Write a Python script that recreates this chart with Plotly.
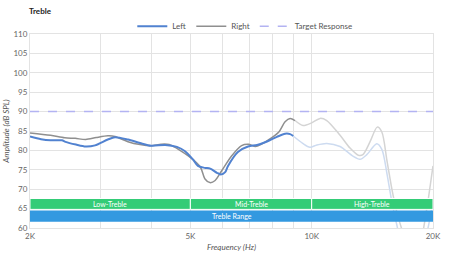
import plotly.graph_objects as go
import math

# ---- data ----
left_freq = [2000, 2130, 2250, 2400, 2450, 2600, 2750, 2900, 3120, 3250, 3500, 3750, 4000,
             4330, 4630, 4850, 5080, 5220, 5430, 5600, 5820, 5950, 6100, 6200, 6560, 6950,
             7320, 7750, 8200, 8590, 8840, 9000,
             9500, 9900, 10300, 10900, 11760, 12660, 13180, 13700, 14500, 14940, 15380,
             15830, 16280, 16760, 17740, 18600, 19440, 20000]
left_db = [83.6, 82.9, 82.6, 82.6, 82.2, 81.5, 81.0, 81.3, 82.8, 83.4, 82.8, 81.9, 81.2,
           81.4, 80.9, 79.8, 77.6, 76.0, 75.5, 75.3, 74.2, 73.8, 74.4, 76.0, 79.6, 81.0,
           81.4, 82.3, 83.5, 84.3, 84.2, 83.7,
           81.8, 80.8, 81.4, 81.8, 81.0, 78.5, 77.7, 78.9, 81.7, 80.2, 73.9,
           66.4, 60.6, 55.0, 50.0, 52.0, 60.0, 67.0]
left_dark_until = 9000

right_freq = [2000, 2250, 2440, 2590, 2750, 2920, 3120, 3250, 3500, 3750, 4000, 4230,
              4430, 4950, 5300, 5430, 5590, 5760, 5980, 6320, 6700, 6970, 7250, 7510,
              7860, 8290, 8590, 8840, 9090,
              9520, 10000, 10490, 10900, 11760, 12450, 13050, 13400, 13960, 14540, 14930,
              15380, 15830, 16280, 16760, 17740, 18400, 18890, 19440, 20000]
right_db = [84.5, 83.9, 83.25, 83.1, 82.8, 83.3, 83.75, 83.6, 82.25, 81.5, 81.2, 81.6,
            81.5, 78.5, 75.6, 72.7, 71.7, 72.25, 74.75, 78.5, 81.25, 81.6, 81.0, 81.6,
            82.9, 84.75, 87.4, 88.25, 87.7,
            86.4, 87.1, 88.25, 87.7, 83.9, 80.6, 78.75, 78.9, 82.25, 86.0, 84.75,
            77.25, 69.75, 63.9, 59.5, 52.0, 52.0, 59.0, 67.0, 76.0]
right_dark_until = 9090

target_db = 90

band_names = ["Low-Treble", "Mid-Treble", "High-Treble"]
band_start = [2000, 5000, 10000]
band_end = [5000, 10000, 20000]
band_low, band_high = 64.8, 67.6
range_name = "Treble Range"
range_low, range_high = 61.6, 64.5

x_tickvals = [2000, 3000, 4000, 5000, 6000, 7000, 8000, 9000, 10000, 20000]
x_ticktext = ["2K", "", "", "5K", "", "", "", "", "10K", "20K"]

# ---- styles ----
BLUE = "#5182d0"
BLUE_FADE = "#cddbf0"
GREY = "#8f8f8f"
GREY_FADE = "#d4d4d4"
TARGET = "#b3b3f2"
GREEN = "#34cc77"
RANGE_BLUE = "#3399e0"
FONT = "Lato"


def split(freq, db, cut):
    dark_f = [f for f in freq if f <= cut]
    dark_d = db[:len(dark_f)]
    fade_f = freq[len(dark_f) - 1:]
    fade_d = db[len(dark_f) - 1:]
    return dark_f, dark_d, fade_f, fade_d


lf, ld, lff, lfd = split(left_freq, left_db, left_dark_until)
rf, rd, rff, rfd = split(right_freq, right_db, right_dark_until)

fig = go.Figure()
fig.add_trace(go.Scatter(x=rff, y=rfd, mode="lines", line=dict(color=GREY_FADE, width=1.5, shape="spline", smoothing=0.8),
                         showlegend=False, hoverinfo="skip"))
fig.add_trace(go.Scatter(x=lff, y=lfd, mode="lines", line=dict(color=BLUE_FADE, width=1.5, shape="spline", smoothing=0.8),
                         showlegend=False, hoverinfo="skip"))
fig.add_trace(go.Scatter(x=[2000, 20000], y=[target_db, target_db], mode="lines",
                         line=dict(color=TARGET, width=1.5, dash="dash"), name="Target Response"))
fig.add_trace(go.Scatter(x=rf, y=rd, mode="lines", line=dict(color=GREY, width=1.5, shape="spline", smoothing=0.8),
                         name="Right"))
fig.add_trace(go.Scatter(x=lf, y=ld, mode="lines", line=dict(color=BLUE, width=2, shape="spline", smoothing=0.8),
                         name="Left"))

shapes = []
annotations = []
for name, s, e in zip(band_names, band_start, band_end):
    shapes.append(dict(type="rect", xref="x", yref="y", x0=s, x1=e, y0=band_low, y1=band_high,
                       fillcolor=GREEN, line=dict(color="white", width=1), layer="above"))
    annotations.append(dict(x=(math.log10(s) + math.log10(e)) / 2, y=(band_low + band_high) / 2,
                            xref="x", yref="y", text=name, showarrow=False,
                            font=dict(color="white", size=7, family=FONT)))
shapes.append(dict(type="rect", xref="x", yref="y", x0=band_start[0], x1=band_end[-1],
                   y0=range_low, y1=range_high, fillcolor=RANGE_BLUE, line=dict(width=0), layer="above"))
annotations.append(dict(x=(math.log10(band_start[0]) + math.log10(band_end[-1])) / 2,
                        y=(range_low + range_high) / 2, xref="x", yref="y", text=range_name,
                        showarrow=False, font=dict(color="white", size=7, family=FONT)))

fig.update_layout(
    width=450, height=260,
    margin=dict(l=30, r=17, t=29, b=32),
    paper_bgcolor="white", plot_bgcolor="white",
    font=dict(family=FONT, size=8, color="#555"),
    title=dict(text="<b>Treble</b>", x=29 / 450, xanchor="left", y=1 - 11 / 260, yanchor="middle",
               font=dict(size=8, color="#222", family=FONT)),
    legend=dict(orientation="h", x=0.533, xanchor="center", y=1.04, yanchor="middle",
                font=dict(size=8, color="#555"), itemwidth=30, traceorder="reversed",
                bgcolor="rgba(0,0,0,0)"),
    shapes=shapes, annotations=annotations,
    xaxis=dict(type="log", range=[math.log10(2000), math.log10(20000)], automargin=False,
               tickvals=x_tickvals, ticktext=x_ticktext, showgrid=True, gridcolor="#e3e3e3",
               showline=True, linecolor="#e3e3e3", mirror=True, zeroline=False, ticks="",
               tickfont=dict(size=8, color="#666"),
               title=dict(text="<i>Frequency (Hz)</i>", standoff=4, font=dict(size=8, color="#555"))),
    yaxis=dict(range=[60, 110], dtick=5, showgrid=True, gridcolor="#e3e3e3", automargin=False,
               showline=True, linecolor="#e3e3e3", mirror=True, zeroline=False, ticks="",
               tickfont=dict(size=8, color="#666"),
               title=dict(text="<i>Amplitude (dB SPL)</i>", standoff=2, font=dict(size=8, color="#555"))),
)

fig.write_html("out.html")
